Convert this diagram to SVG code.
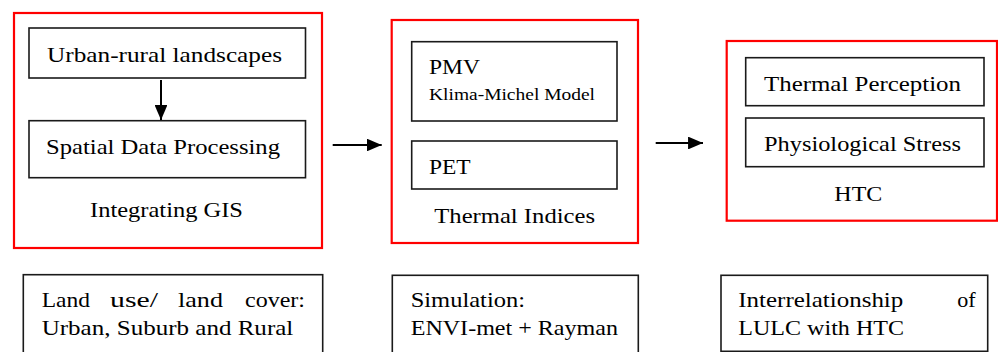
<svg xmlns="http://www.w3.org/2000/svg" width="998" height="352" viewBox="0 0 998 352">
<style>
.red{fill:none;stroke:#ff0000;stroke-width:2.2}
.box{fill:#fff;stroke:#1a1a1a;stroke-width:1.6}
.t{font-family:"Liberation Serif","DejaVu Serif",serif;font-size:21px;fill:#000}
.s{font-family:"Liberation Serif","DejaVu Serif",serif;font-size:16px;fill:#000}
.b{font-family:"Liberation Serif","DejaVu Serif",serif;font-size:21px;fill:#000}
.c{fill:none;stroke:#000;stroke-width:2}
</style>
<defs>
<marker id="ah" viewBox="0 0 14 12" refX="14" refY="6" markerWidth="7.5" markerHeight="6.4" markerUnits="strokeWidth" orient="auto">
<path d="M0,0 L14,6 L0,12 z" fill="#000"/>
</marker>
</defs>
<rect width="998" height="352" fill="#fff"/>
<g id="group-gis">
<rect class="red" x="14" y="13" width="308" height="235"/>
<text class="t" x="90" y="216.7" textLength="153" lengthAdjust="spacingAndGlyphs">Integrating GIS</text>
</g>
<g id="node-urban">
<rect class="box" x="29" y="28" width="276.5" height="50"/>
<text class="t" x="47" y="62" textLength="235" lengthAdjust="spacingAndGlyphs">Urban-rural landscapes</text>
</g>
<g id="node-spatial">
<rect class="box" x="29" y="120.7" width="276.5" height="57"/>
<text class="t" x="46" y="154" textLength="234" lengthAdjust="spacingAndGlyphs">Spatial Data Processing</text>
</g>
<g id="group-indices">
<rect class="red" x="391.7" y="20" width="246.3" height="223"/>
<text class="t" x="434.3" y="222.7" textLength="160.7" lengthAdjust="spacingAndGlyphs">Thermal Indices</text>
</g>
<g id="node-pmv">
<rect class="box" x="411.7" y="41.7" width="205.3" height="79.3"/>
<text class="t" x="429" y="74" textLength="51" lengthAdjust="spacingAndGlyphs">PMV</text>
<text class="s" x="429" y="100" textLength="166" lengthAdjust="spacingAndGlyphs">Klima-Michel Model</text>
</g>
<g id="node-pet">
<rect class="box" x="411.7" y="141" width="205.3" height="48"/>
<text class="t" x="429" y="174" textLength="41.7" lengthAdjust="spacingAndGlyphs">PET</text>
</g>
<g id="group-htc">
<rect class="red" x="726.7" y="41" width="270.3" height="179.7"/>
<text class="t" x="834.3" y="200.7" textLength="48" lengthAdjust="spacingAndGlyphs">HTC</text>
</g>
<g id="node-perception">
<rect class="box" x="745.7" y="57.7" width="238.3" height="48"/>
<text class="t" x="764" y="91" textLength="197" lengthAdjust="spacingAndGlyphs">Thermal Perception</text>
</g>
<g id="node-stress">
<rect class="box" x="745.7" y="118" width="238.3" height="48.7"/>
<text class="t" x="764" y="151" textLength="197" lengthAdjust="spacingAndGlyphs">Physiological Stress</text>
</g>
<g id="node-lulc">
<rect class="box" x="23.3" y="274.7" width="299.4" height="80"/>
<text class="b" x="41.7" y="307" textLength="48.3" lengthAdjust="spacingAndGlyphs">Land</text>
<text class="b" x="110" y="307" textLength="48" lengthAdjust="spacingAndGlyphs">use/</text>
<text class="b" x="178" y="307" textLength="45" lengthAdjust="spacingAndGlyphs">land</text>
<text class="b" x="245" y="307" textLength="60" lengthAdjust="spacingAndGlyphs">cover:</text>
<text class="b" x="41.7" y="334.7" textLength="251.6" lengthAdjust="spacingAndGlyphs">Urban, Suburb and Rural</text>
</g>
<g id="node-simulation">
<rect class="box" x="392.3" y="275.3" width="246" height="80"/>
<text class="b" x="410.7" y="307" textLength="114.3" lengthAdjust="spacingAndGlyphs">Simulation:</text>
<text class="b" x="410.7" y="335" textLength="207.3" lengthAdjust="spacingAndGlyphs">ENVI-met + Rayman</text>
</g>
<g id="node-interrelationship">
<rect class="box" x="721" y="275.3" width="266.7" height="76"/>
<text class="b" x="738.3" y="307" textLength="165" lengthAdjust="spacingAndGlyphs">Interrelationship</text>
<text class="b" x="957.3" y="307" textLength="18.4" lengthAdjust="spacingAndGlyphs">of</text>
<text class="b" x="738.3" y="335" textLength="165.7" lengthAdjust="spacingAndGlyphs">LULC with HTC</text>
</g>
<g id="connectors">
<line class="c" x1="161" y1="80" x2="161" y2="120" marker-end="url(#ah)"/>
<line class="c" x1="332.7" y1="145" x2="381.7" y2="145" marker-end="url(#ah)"/>
<line class="c" x1="655.7" y1="143" x2="703" y2="143" marker-end="url(#ah)"/>
</g>
</svg>
